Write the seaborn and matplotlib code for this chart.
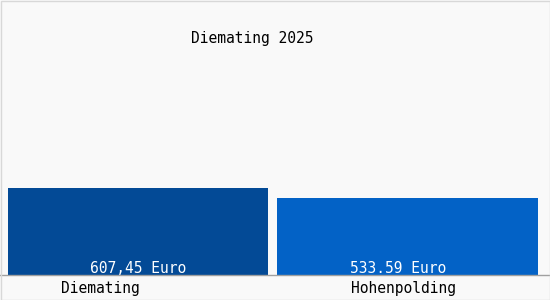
import matplotlib
matplotlib.use("Agg")
import matplotlib.pyplot as plt
import matplotlib.transforms as mtransforms
from matplotlib.patches import Rectangle
import seaborn as sns
import pandas as pd

# ---- data ----
categories = ["Diemating", "Hohenpolding"]
values = [607.45, 533.59]
value_labels = ["607,45 Euro", "533.59 Euro"]
title = "Diemating 2025"

# ---- style ----
bar_colors = ["#034a96", "#0362c6"]
bg = "#f9f9f9"
font = "DejaVu Sans Mono"
fs = 10.5
label_dx_px = [-38, -4.5]   # tick label horizontal offsets
value_dx_px = [0.5, -9.5]   # value label horizontal offsets

sns.set_theme(style="white")
plt.rcParams["font.family"] = [font, "DejaVu Sans"]

W, H = 550, 300
fig = plt.figure(figsize=(W / 100, H / 100), dpi=100, facecolor=bg)
ax = fig.add_axes([0, 25 / H, 1, 275 / H])
ax.set_facecolor(bg)

df = pd.DataFrame({"cat": categories, "val": values})
sns.barplot(data=df, x="cat", y="val", hue="cat", palette=bar_colors,
            width=261 / 270, legend=False, ax=ax, saturation=1, linewidth=0)

ax.set_xlim(-138 / 270, (W - 138) / 270)
ax.set_ylim(0, 607.45 * 275 / 87.5)
ax.set_xlabel("")
ax.set_ylabel("")
ax.set_yticks([])
for s in ["top", "right", "left"]:
    ax.spines[s].set_visible(False)
ax.spines["bottom"].set_color("#a0a0a0")
ax.spines["bottom"].set_linewidth(1)

ax.set_xticks(range(len(categories)))
ax.set_xticklabels(categories, fontsize=fs, color="#000000", family=font)
ax.tick_params(axis="x", length=0, pad=4.5)
for lbl, dx in zip(ax.get_xticklabels(), label_dx_px):
    lbl.set_transform(lbl.get_transform() +
                      mtransforms.ScaledTranslation(dx / 100, 0, fig.dpi_scale_trans))

for i, (v, t) in enumerate(zip(values, value_labels)):
    off = mtransforms.ScaledTranslation(value_dx_px[i] / 100, 2 / 100, fig.dpi_scale_trans)
    ax.text(i, 0, t, ha="center", va="baseline", color="white", fontsize=fs,
            family=font, transform=ax.transData + off)

fig.text(252 / W, 1 - 43 / H, title, ha="center", va="baseline",
         fontsize=fs, color="#000000", family=font)

# light frame around the figure
fig.add_artist(Rectangle((0.5 / W, 0.5 / H), 1 - 1 / W, 1 - 1 / H,
                         transform=fig.transFigure, fill=False,
                         edgecolor="#d8d8d8", linewidth=1))

fig.savefig("out.png", dpi=100, facecolor=bg)
